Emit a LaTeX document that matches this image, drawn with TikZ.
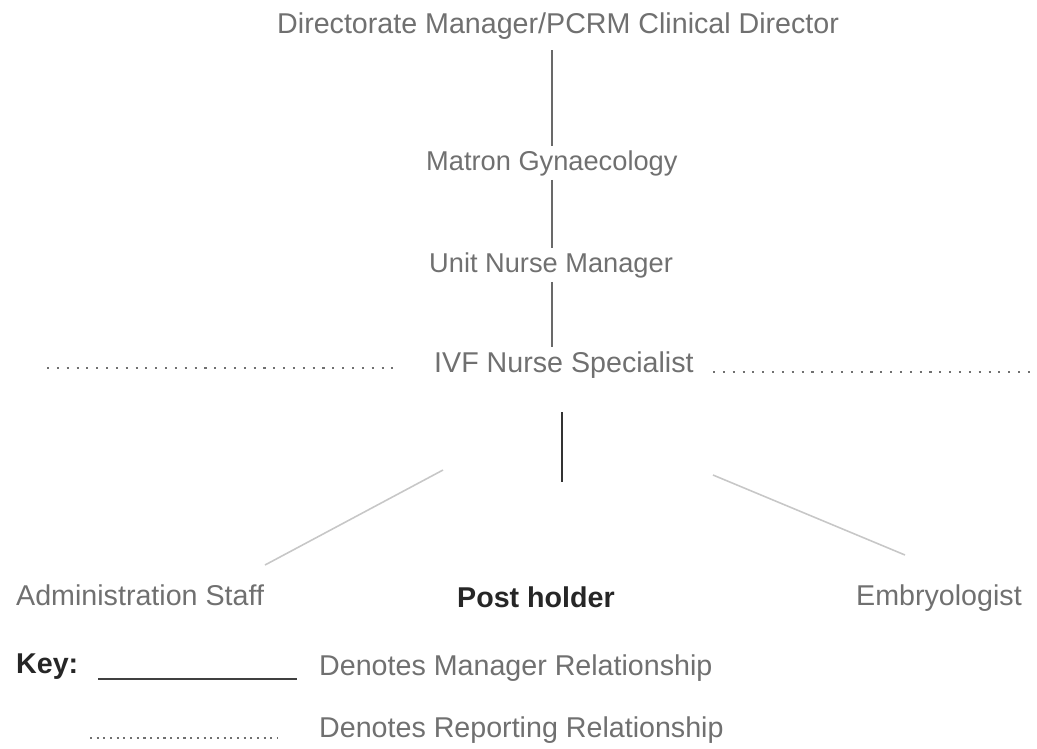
\documentclass[tikz,border=0pt]{standalone}
\usepackage{fontspec}
\setmainfont{Liberation Sans}
\usepackage{xcolor}
\usepackage{tikz}
\usetikzlibrary{positioning}
\definecolor{txtgray}{RGB}{112,112,112}
\definecolor{linegray}{RGB}{105,105,105}

\begin{document}
\begin{tikzpicture}[x=0.02cm, y=-0.02cm, thick,
  role/.style = {text=txtgray, font=\fontsize{16.3}{19}\selectfont, inner sep=2pt, anchor=base west},
  midrole/.style = {role, font=\fontsize{15.5}{18}\selectfont},
  holder/.style = {text=black!85, font=\fontsize{16.3}{19}\selectfont\bfseries, inner sep=2pt, anchor=base west},
  manage/.style = {draw=linegray, line width=1.3pt},
  report/.style = {draw=txtgray, line width=1.3pt, dash pattern=on 1.2pt off 4.4pt},
  side/.style = {draw=black!22, line width=0.9pt}]
\useasboundingbox (0,0) rectangle (1037,748);
\node[role] (dir) at (273,33) {Directorate Manager/PCRM Clinical Director};
\node[midrole] (mat) at (422,170) {Matron Gynaecology};
\node[midrole] (unm) at (425,272) {Unit Nurse Manager};
\node[role] (ivf) at (430,372) {IVF Nurse Specialist};
\node[role] (adm) at (12,605) {Administration Staff};
\node[holder] (post) at (453,607) {Post holder};
\node[role] (emb) at (852,605) {Embryologist};
\node[holder] (key) at (12,673) {Key:};
\node[role] (kman) at (315,675) {Denotes Manager Relationship};
\node[role] (krep) at (315,737) {Denotes Reporting Relationship};
% free ends
\coordinate (rl) at (47,368);
\coordinate (rlb) at (400,368);
\coordinate (rrb) at (713,372);
\coordinate (rr) at (1037,372);
\coordinate (pt) at (562,412);
\coordinate (pb) at (562,482);
\coordinate (al) at (443,470);
\coordinate (ab) at (265,565);
\coordinate (el) at (713,475);
\coordinate (eb) at (905,555);
\coordinate (kma) at (98,679);
\coordinate (kmb) at (297,679);
\coordinate (kra) at (90,738);
\coordinate (krb) at (277,738);
% lines
\draw[manage, shorten <=4pt] (mat.north |- dir.south) -- (mat.north);
\draw[manage] (mat.south) -- (mat.south |- unm.north);
\draw[manage] (mat.south |- unm.south) -- (mat.south |- ivf.north);
\draw[draw=black!80, line width=1.6pt] (pt) -- (pb);
\draw[side] (al) -- (ab);
\draw[side] (el) -- (eb);
\draw[report] (rl) -- (rlb);
\draw[report] (rrb) -- (rr);
\draw[draw=black!75, line width=1.3pt] (kma) -- (kmb);
\draw[report, dash pattern=on 1.2pt off 2.6pt] (kra) -- (krb);
\end{tikzpicture}
\end{document}
